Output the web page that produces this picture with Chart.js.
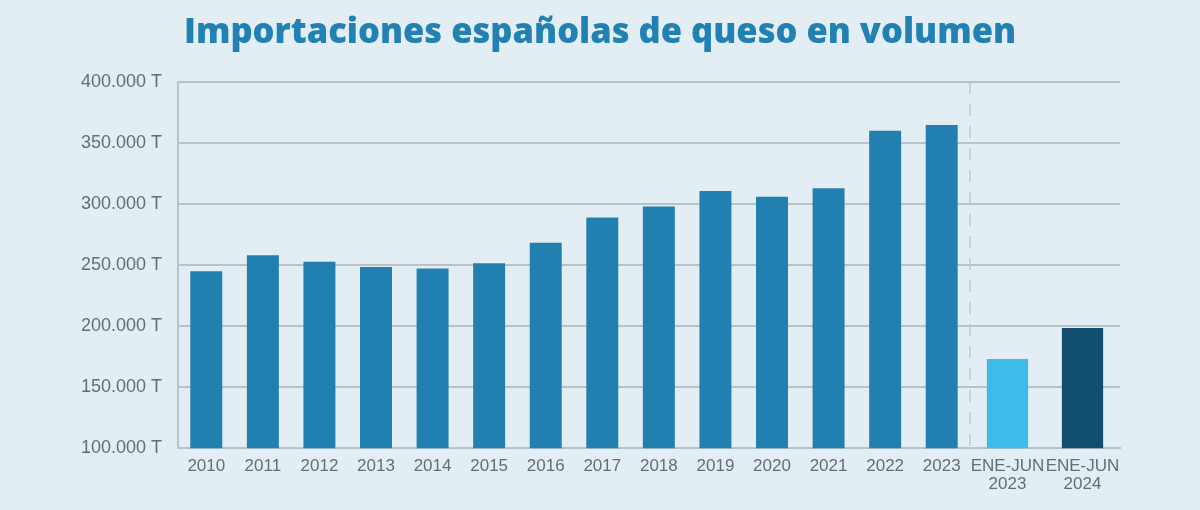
<!DOCTYPE html>
<html>
<head>
<meta charset="utf-8">
<script src="https://cdn.jsdelivr.net/npm/chart.js@4.4.1/dist/chart.umd.min.js"></script>
<style>
  html, body { margin: 0; padding: 0; background: #e2eef3; }
  canvas { display: block; }
</style>
</head>
<body>
<canvas id="c" width="1200" height="510"></canvas>
<script>
// ---- Data ----
const titleText = 'Importaciones españolas de queso en volumen';
const yearLabels = ['2010','2011','2012','2013','2014','2015','2016','2017','2018','2019','2020','2021','2022','2023'];
const yearValues = [245000, 258000, 252700, 248400, 247300, 251600, 268300, 289000, 298000, 310700, 306000, 313000, 360000, 364800];
const halfLabels = [['ENE-JUN','2023'], ['ENE-JUN','2024']];
const halfValues = [173000, 198400];
const yMin = 100000;
const yMax = 400000;
const yStep = 50000;

// ---- Styles ----
const mainBlue = '#2280b0';
const halfColors = ['#3bbce9', '#124f6f'];
const gridColor = '#b8c2c7';
const textColor = '#646e75';
const xTickFont = { family: '"Liberation Sans", Arial, sans-serif', size: 17, lineHeight: 1.05 };
const yTickFont = { family: '"Liberation Sans", Arial, sans-serif', size: 18, lineHeight: 1.05 };

function fmt(v) {
  return String(v).replace(/\B(?=(\d{3})+(?!\d))/g, '.') + ' T';
}

new Chart(document.getElementById('c'), {
  type: 'bar',
  data: {
    datasets: [
      {
        data: yearValues,
        xAxisID: 'x',
        backgroundColor: mainBlue,
        grouped: false,
        categoryPercentage: 1,
        barPercentage: 0.565
      },
      {
        data: halfValues,
        xAxisID: 'x2',
        backgroundColor: halfColors,
        grouped: false,
        categoryPercentage: 1,
        barPercentage: 0.55
      }
    ]
  },
  options: {
    responsive: false,
    animation: false,
    devicePixelRatio: 1,
    layout: { padding: { left: 80, right: 80, top: 0, bottom: 17 } },
    plugins: {
      legend: { display: false },
      tooltip: { enabled: false },
      title: {
        display: true,
        text: titleText,
        color: '#2181b3',
        font: { family: '"Open Sans", Lato, sans-serif', weight: '800', size: 34.5, lineHeight: 1.2 },
        padding: { top: 12, bottom: 28.6 }
      }
    },
    scales: {
      x: {
        type: 'category',
        labels: yearLabels,
        position: 'bottom',
        stack: 'bottomStack',
        stackWeight: 792,
        offset: true,
        grid: { display: false, drawTicks: false },
        border: { display: true, color: gridColor, width: 2 },
        ticks: { color: textColor, font: xTickFont, padding: 9, maxRotation: 0, autoSkip: false }
      },
      x2: {
        type: 'category',
        labels: halfLabels,
        position: 'bottom',
        stack: 'bottomStack',
        stackWeight: 150,
        offset: true,
        grid: {
          display: true,
          offset: true,
          drawTicks: false,
          lineWidth: 2,
          color: (ctx) => ctx.index === 0 ? '#c9d3d8' : 'rgba(0,0,0,0)'
        },
        border: { display: true, color: gridColor, width: 2, dash: [12, 10] },
        ticks: { color: textColor, font: xTickFont, padding: 9, maxRotation: 0, autoSkip: false }
      },
      y: {
        min: yMin,
        max: yMax,
        afterFit: (scale) => { scale.width = 98; },
        grid: { color: gridColor, lineWidth: 2, drawTicks: false },
        border: { display: true, color: gridColor, width: 2 },
        ticks: { stepSize: yStep, color: textColor, font: yTickFont, padding: 16, callback: (v) => fmt(v) }
      }
    }
  }
});
</script>
</body>
</html>
